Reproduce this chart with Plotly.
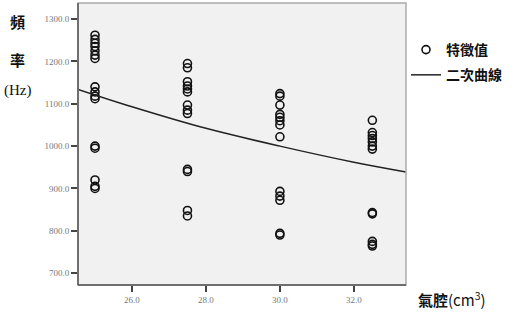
import plotly.graph_objects as go

# Data
air_volume = [25.0, 27.5, 30.0, 32.5]
freq_25_0 = [1262, 1252, 1243, 1235, 1225, 1215, 1207, 1140, 1128, 1118, 1112, 1000, 995, 920, 905, 900]
freq_27_5 = [1195, 1185, 1152, 1142, 1135, 1128, 1097, 1085, 1077, 945, 940, 848, 835]
freq_30_0 = [1124, 1118, 1097, 1075, 1068, 1060, 1050, 1022, 893, 882, 872, 794, 790]
freq_32_5 = [1061, 1032, 1025, 1018, 1010, 1000, 993, 843, 840, 775, 768, 764]
curve_x = [24.54, 26.0, 28.0, 30.0, 32.0, 33.41]
curve_y = [1134, 1093, 1042, 1000, 962, 939]
x_ticks = [26.0, 28.0, 30.0, 32.0]
y_ticks = [700, 800, 900, 1000, 1100, 1200, 1300]

groups = [freq_25_0, freq_27_5, freq_30_0, freq_32_5]
px, py = [], []
for xv, vals in zip(air_volume, groups):
    px += [xv] * len(vals)
    py += vals

fig = go.Figure()
fig.add_trace(go.Scatter(
    x=px, y=py, mode="markers", name="<b>特徵值</b>", legendgroup="a",
    marker=dict(symbol="circle-open", size=8, color="#111", line=dict(width=1.6, color="#111")),
))
fig.add_trace(go.Scatter(
    x=curve_x, y=curve_y, mode="lines", name="<b>二次曲線</b>", legendgroup="b",
    line=dict(color="#222", width=1.5, shape="spline"),
))

tickfont = dict(family="Liberation Serif", size=9, color="#777")
fig.update_xaxes(
    range=[24.54, 33.41], tickvals=x_ticks, ticktext=[f"{v:.1f}" for v in x_ticks],
    ticks="outside", ticklen=6, tickwidth=1.5, tickcolor="#444",
    showgrid=False, zeroline=False, showline=False, tickfont=tickfont,
)
fig.update_yaxes(
    range=[672, 1338], tickvals=y_ticks, ticktext=[f"{v:.1f}" for v in y_ticks],
    ticks="outside", ticklen=6, tickwidth=1.5, tickcolor="#444",
    showgrid=False, zeroline=False, showline=False, tickfont=tickfont,
)

# plot frame: light on top/right, dark on left/bottom
fig.add_shape(type="rect", xref="paper", yref="paper", x0=0, y0=0, x1=1, y1=1,
              line=dict(color="#aaa", width=1.5), layer="above")
fig.add_shape(type="line", xref="paper", yref="paper", x0=0, y0=0, x1=0, y1=1,
              line=dict(color="#555", width=1.5), layer="above")
fig.add_shape(type="line", xref="paper", yref="paper", x0=0, y0=0, x1=1, y1=0,
              line=dict(color="#555", width=1.5), layer="above")

cjk = "Noto Sans CJK TC"
common = dict(xref="paper", yref="paper", showarrow=False, xanchor="center", yanchor="middle")
fig.add_annotation(text="<b>頻</b>", x=-0.183, y=0.935,
                   font=dict(family=cjk, size=15, color="#111"), **common)
fig.add_annotation(text="<b>率</b>", x=-0.183, y=0.80,
                   font=dict(family=cjk, size=15, color="#111"), **common)
fig.add_annotation(text="(Hz)", x=-0.183, y=0.688,
                   font=dict(family="Liberation Serif", size=15, color="#111"), **common)
fig.add_annotation(text="<b>氣腔</b>(cm<sup>3</sup>)", x=1.14, y=-0.05,
                   font=dict(family=cjk, size=15, color="#111"), **common)

fig.update_layout(
    width=514, height=314,
    margin=dict(l=78, r=108, t=3, b=29),
    paper_bgcolor="white", plot_bgcolor="#f1f1f1",
    showlegend=True,
    legend=dict(x=1.0, y=0.89, xanchor="left", yanchor="top",
                font=dict(family=cjk, size=14, color="#111"),
                bgcolor="rgba(0,0,0,0)", tracegroupgap=4, itemwidth=30),
)

fig.write_html("out.html")
